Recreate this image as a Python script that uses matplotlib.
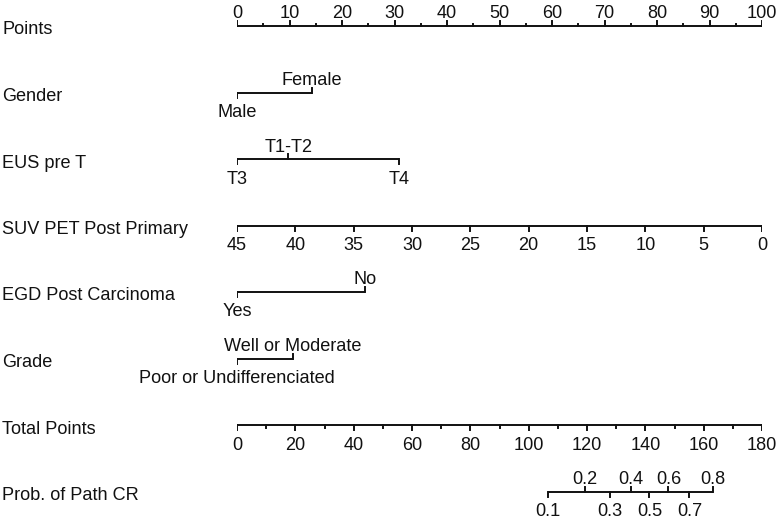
import matplotlib
matplotlib.use("Agg")
import matplotlib.pyplot as plt
import matplotlib.transforms as mtransforms

plt.rcParams['font.family'] = ['Liberation Sans', 'DejaVu Sans']

# ==========================================================
# Nomogram data
# ==========================================================
row_names = ["Points", "Gender", "EUS pre T", "SUV PET Post Primary",
             "EGD Post Carcinoma", "Grade", "Total Points", "Prob. of Path CR"]

points_ticks = [0, 10, 20, 30, 40, 50, 60, 70, 80, 90, 100]
points_minor = [5, 15, 25, 35, 45, 55, 65, 75, 85, 95]

gender_levels = ["Male", "Female"]
gender_points = [0, 14.2]

eus_levels = ["T3", "T1-T2", "T4"]
eus_points = [0, 9.8, 30.9]

suv_values = [45, 40, 35, 30, 25, 20, 15, 10, 5, 0]
suv_max = 45

egd_levels = ["Yes", "No"]
egd_points = [0, 24.4]

grade_levels = ["Poor or Undifferenciated", "Well or Moderate"]
grade_points = [0, 10.7]

total_ticks = [0, 20, 40, 60, 80, 100, 120, 140, 160, 180]
total_minor = [10, 30, 50, 70, 90, 110, 130, 150, 170]
total_max = 180

prob_labels = ["0.1", "0.2", "0.3", "0.4", "0.5", "0.6", "0.7", "0.8"]
prob_total = [106.7, 119.3, 127.9, 135.0, 141.4, 147.9, 155.1, 163.1]

# ==========================================================
# Figure
# ==========================================================
W, H = 780, 524
fig = plt.figure(figsize=(W / 100, H / 100), dpi=100)
ax = fig.add_axes([237 / W, 0, 525 / W, 1])
ax.set_xlim(0, 100)
ax.set_ylim(H, 0)
ax.axis("off")

FS = 13.1
LW = 1.4
COL = "#111111"
row_y = [26 + 66.5 * i for i in range(len(row_names))]
lab_tr = mtransforms.blended_transform_factory(fig.transFigure, ax.transData)

for name, y in zip(row_names, row_y):
    ax.text(2 / W, y + 8.5, name, transform=lab_tr, fontsize=FS,
            ha="left", va="baseline", color=COL)


def draw_scale(y, xs, labels, side, minor=None):
    # side: "up" / "down" / "alt" (first down, then alternating)
    ax.plot([min(xs), max(xs)], [y, y], color=COL, lw=LW, solid_capstyle="butt")
    if minor is not None:
        mdir = -1 if side == "up" else 1
        for m in minor:
            ax.plot([m, m], [y, y + mdir * 2.5], color=COL, lw=LW)
    for i, (x, lab) in enumerate(zip(xs, labels)):
        if side == "up":
            d = -1
        elif side == "down":
            d = 1
        else:
            d = 1 if i % 2 == 0 else -1
        ax.plot([x, x], [y, y + d * 5], color=COL, lw=LW)
        if d < 0:
            ax.text(x, y - 7.5, lab, fontsize=FS, ha="center", va="baseline", color=COL)
        else:
            ax.text(x, y + 24.5, lab, fontsize=FS, ha="center", va="baseline", color=COL)


draw_scale(row_y[0], points_ticks, [str(t) for t in points_ticks], "up", points_minor)
draw_scale(row_y[1], gender_points, gender_levels, "alt")
draw_scale(row_y[2], eus_points, eus_levels, "alt")
suv_x = [(suv_max - v) / suv_max * 100 for v in suv_values]
draw_scale(row_y[3], suv_x, [str(v) for v in suv_values], "down")
draw_scale(row_y[4], egd_points, egd_levels, "alt")
draw_scale(row_y[5], grade_points, grade_levels, "alt")
draw_scale(row_y[6], [t / total_max * 100 for t in total_ticks],
           [str(t) for t in total_ticks], "down",
           [t / total_max * 100 for t in total_minor])
draw_scale(row_y[7], [t / total_max * 100 for t in prob_total], prob_labels, "alt")

fig.savefig("out.png", dpi=100, facecolor="white")
